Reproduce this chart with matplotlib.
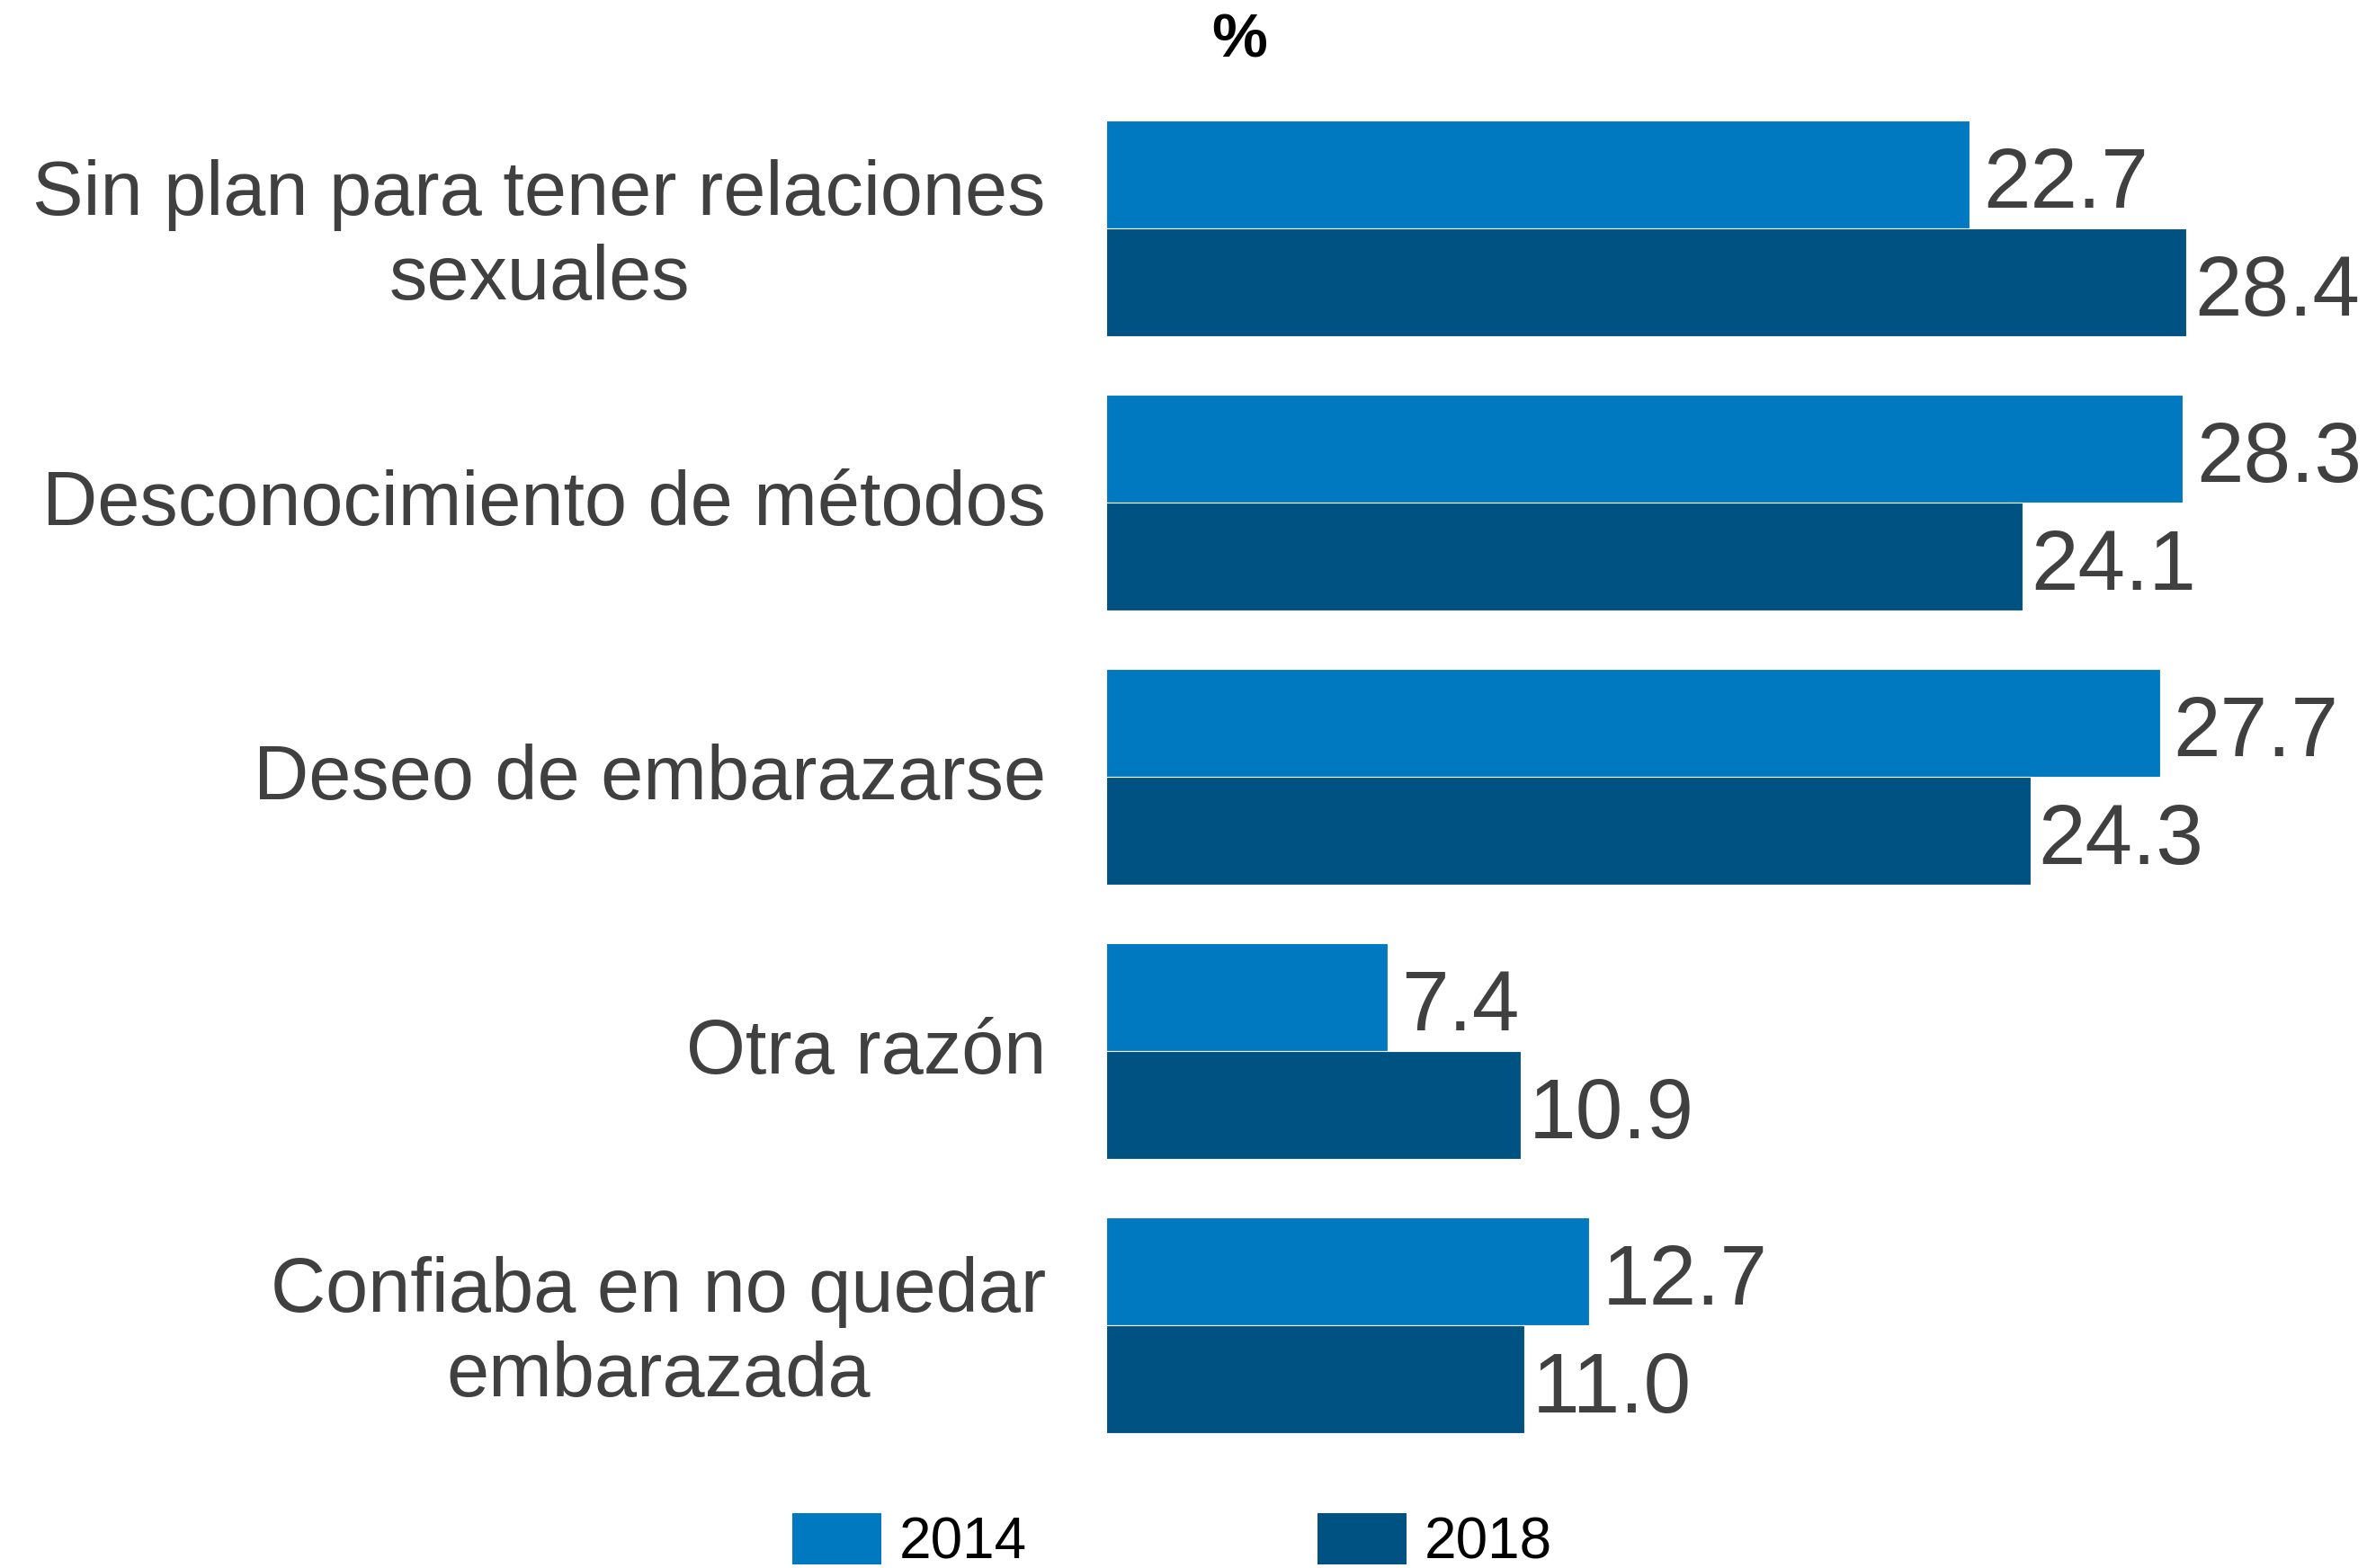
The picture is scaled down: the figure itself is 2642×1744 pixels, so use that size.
import matplotlib
matplotlib.use("Agg")
import matplotlib.pyplot as plt
from matplotlib.patches import Patch
import numpy as np

plt.rcParams["font.family"] = ["Liberation Sans", "DejaVu Sans"]

categories = [
    "Sin plan para tener relaciones\nsexuales",
    "Desconocimiento de métodos",
    "Deseo de embarazarse",
    "Otra razón",
    "Confiaba en no quedar\nembarazada",
]
years = ["2014", "2018"]
vals_2014 = [22.7, 28.3, 27.7, 7.4, 12.7]
vals_2018 = [28.4, 24.1, 24.3, 10.9, 11.0]

c2014 = "#0079C1"
c2018 = "#005282"
txt = "#404040"

W, H = 2642, 1744
fig = plt.figure(figsize=(W / 100, H / 100), dpi=100)
ax = fig.add_axes([1230 / W, 0, 1 - 1230 / W, 1])

y = np.arange(len(categories))
h = 0.393
ax.barh(y - h / 2, vals_2014, height=h, color=c2014, edgecolor="white", linewidth=0.8)
ax.barh(y + h / 2, vals_2018, height=h, color=c2018, edgecolor="white", linewidth=0.8)

ax.set_xlim(0, (W - 1230) / 42.3)
ax.set_ylim(4.885, -0.833)

# value labels
for yy, v in zip(y - h / 2, vals_2014):
    ax.text(v + 0.35, yy + 0.04, f"{v:.1f}", ha="left", va="center", fontsize=68, color=txt)
for yy, v in zip(y + h / 2, vals_2018):
    ax.text(v + 0.2, yy + 0.04, f"{v:.1f}", ha="left", va="center", fontsize=68, color=txt)

# category labels, slightly raised like the original
ax.set_yticks(y - 0.02)
ax.set_yticklabels(categories, fontsize=61, color=txt, multialignment="center", linespacing=1.22)
ax.tick_params(axis="y", length=0, pad=67 * 72 / 100)
ax.set_xticks([])
for s in ax.spines.values():
    s.set_visible(False)

fig.text(1378 / W, 1 - 45 / H, "%", ha="center", va="center", fontsize=50, fontweight="bold", color="black")

handles = [Patch(facecolor=c2014), Patch(facecolor=c2018)]
fig.legend(handles, years, loc="upper left", bbox_to_anchor=(881 / W, 1 - 1683 / H),
           ncol=2, frameon=False, fontsize=46, handlelength=1.55, handleheight=1.0,
           handletextpad=0.31, columnspacing=5.06, borderpad=0, borderaxespad=0)

fig.savefig("out.png", dpi=100)
